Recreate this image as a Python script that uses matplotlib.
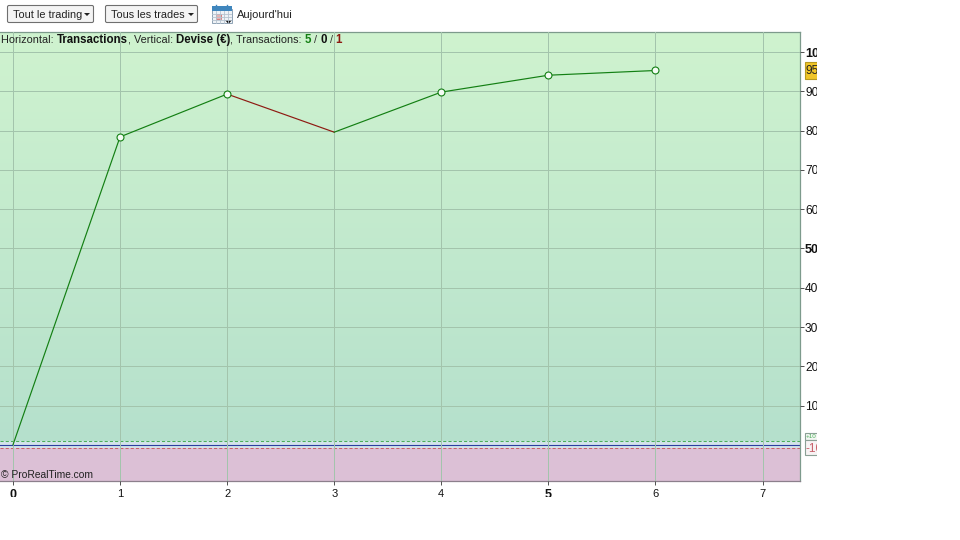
#!/usr/bin/env python3
"""Equity curve per trade, ProRealTime style, with the clipped right/bottom labels."""

import numpy as np
import matplotlib
matplotlib.use('Agg')
import matplotlib.pyplot as plt
from matplotlib.colors import LinearSegmentedColormap
from matplotlib.patches import FancyBboxPatch, Rectangle
from matplotlib.transforms import Bbox

# ── Data ──────────────────────────────────────────────────────────────────────
trades = [0, 1, 2, 3, 4, 5, 6]
equity = [0, 78.4, 89.3, 79.6, 89.8, 94.1, 95.3]
winner_trades = [1, 2, 4, 5, 6]
winner_equity = [78.4, 89.3, 89.8, 94.1, 95.3]
x_ticks = [0, 1, 2, 3, 4, 5, 6, 7]
y_ticks = [10, 20, 30, 40, 50, 60, 70, 80, 90, 100]
y_tick_labels = ['10', '20', '30', '40', '50', '60', '70', '80', '90', '100']
bold_labels = ['0', '5', '50', '100']
last_value_label = '95'
loss_line_label = '-10'

# ── Config ────────────────────────────────────────────────────────────────────
W, H = 960, 540
AX_L, AX_R, AX_T, AX_B = 0, 799.5, 32, 481
FONT = 'Liberation Sans'
FS_REG = 7.8
FS_BOLD = 8.3
C_UP = '#137f13'
C_DOWN = '#8e1a12'
C_FRAME = '#7d9a8c'
C_GRID = '#a3c4ac'

plt.rcParams['font.family'] = [FONT, 'DejaVu Sans']

fig = plt.figure(figsize=(W / 100, H / 100), dpi=100, facecolor='white')
ax = fig.add_axes([AX_L / W, 1 - AX_B / H, (AX_R - AX_L) / W, (AX_B - AX_T) / H])
ax.set_xlim(-0.121, 7.345)
ax.set_ylim(-9.2, 105.1)

# ── Background: green gradient above zero, pink below ────────────────────────
green = LinearSegmentedColormap.from_list('g', ['#b5e0cc', '#cff3cf'])
ax.imshow(np.linspace(1, 0, 256).reshape(-1, 1), cmap=green, aspect='auto',
          extent=[-0.121, 7.345, 0, 105.1], zorder=0)
ax.axhspan(-9.2, 0, color='#dcc0d6', lw=0, zorder=0)
ax.axhspan(-0.9, 0.95, color='#d3e3ea', lw=0, zorder=1)
ax.axhline(0.95, color='#4caf5a', lw=0.75, ls=(0, (3, 2)), zorder=2)
ax.axhline(-0.9, color='#c8606a', lw=0.75, ls=(0, (3, 2)), zorder=2)
ax.axhline(0, color='#2b3fa0', lw=0.8, zorder=2)

# ── Grid + ticks ──────────────────────────────────────────────────────────────
ax.set_xticks(x_ticks)
ax.set_xticklabels([str(t) for t in x_ticks], fontsize=8)
ax.yaxis.tick_right()
ax.set_yticks(y_ticks)
ax.set_yticklabels(y_tick_labels, fontsize=8.6)
ax.grid(True, color=C_GRID, lw=0.72, zorder=1)
ax.set_axisbelow(False)
ax.tick_params(axis='y', length=3, width=0.72, color='#555555', pad=1.0, labelcolor='#111111')
ax.tick_params(axis='x', length=3, width=0.72, color='#555555', pad=3, labelcolor='#111111')
for s in ax.spines.values():
    s.set_color(C_FRAME)
    s.set_linewidth(0.9)
ax.spines['left'].set_visible(False)
ax.spines['bottom'].set_color('#8c7f8c')

# labels are cut off at the panel's outer edge in the screenshot
visible = Bbox([[0, H - 497], [817, H]])
for lab in ax.get_xticklabels() + ax.get_yticklabels():
    lab.set_clip_box(visible)
    lab.set_clip_on(True)
    if lab.get_text() in bold_labels:
        lab.set_fontweight('bold')
        lab.set_fontsize(9)

# ── Equity line ───────────────────────────────────────────────────────────────
for i in range(len(trades) - 1):
    col = C_UP if equity[i + 1] >= equity[i] else C_DOWN
    ax.plot(trades[i:i + 2], equity[i:i + 2], color=col, lw=0.85, zorder=4)
ax.plot(winner_trades, winner_equity, ls='none', marker='o', ms=5, mfc='#f4fbf4',
        mec=C_UP, mew=0.8, zorder=5)

# ── Pixel overlay for header and badges ───────────────────────────────────────
ui = fig.add_axes([0, 0, 1, 1], facecolor='none')
ui.set_xlim(0, W)
ui.set_ylim(H, 0)
ui.axis('off')

pieces = [('Horizontal: ', 'normal', '#222222'), ('Transactions', 'bold', '#111111'),
          (', Vertical: ', 'normal', '#222222'), ('Devise (€)', 'bold', '#111111'),
          (', Transactions: ', 'normal', '#222222'), ('5', 'bold', C_UP),
          (' / ', 'normal', '#333333'), ('0', 'bold', '#111111'),
          (' / ', 'normal', '#333333'), ('1', 'bold', C_DOWN)]
fig.canvas.draw()
rend = fig.canvas.get_renderer()
cx = 1
for txt, wt, col in pieces:
    size = FS_BOLD if wt == 'bold' else FS_REG
    t = ui.text(cx, 43, txt.replace(' ', '\u00a0'), fontsize=size, fontweight=wt,
                color=col, va='baseline')
    cx += t.get_window_extent(rend).width

ui.text(1, 475.5, '© ProRealTime.com', fontsize=7.4, va='center', color='#222222')


def button(x0, x1, label):
    ui.add_patch(FancyBboxPatch((x0 + 0.5, 5.5), x1 - x0 - 1, 17, boxstyle='round,pad=0,rounding_size=1.5',
                                fc='#f4f4f4', ec='#6f6f6f', lw=0.8))
    ui.text(x0 + 6, 14.5, label, fontsize=FS_REG, va='center', color='#222222')
    tx = x1 - 7
    ui.fill([tx - 3, tx + 3, tx], [13, 13, 16], color='#222222', lw=0)


button(7, 94, 'Tout le trading')
button(105, 198, 'Tous les trades')

# calendar icon
ui.add_patch(Rectangle((212, 9), 19.5, 14, fc='#eef2f6', ec='#8fa3b5', lw=0.7))
ui.add_patch(Rectangle((212, 6), 19.5, 5, fc='#3f86bd', ec='none'))
ui.plot([216, 216], [4.5, 7], color='#3f86bd', lw=1)
ui.plot([227, 227], [4.5, 7], color='#3f86bd', lw=1)
for gx in (216, 220, 224, 228):
    ui.plot([gx, gx], [11, 23], color='#b6c3cf', lw=0.6)
for gy in (14, 17, 20):
    ui.plot([212, 231], [gy, gy], color='#b6c3cf', lw=0.6)
ui.add_patch(Rectangle((216, 14), 5, 5, fc='#e6b3b3', ec='#c44', lw=0.4))
ui.fill([225, 232, 228.5], [20, 20, 24], color='#111111', lw=0)
ui.text(237, 14.5, "Aujourd'hui", fontsize=8, va='center', color='#222222')

# badges on the y scale, cut at the same edge as the labels
badge_clip = Bbox([[800, 0], [817, H]])
for y0, hgt, fc, ec in [(61.5, 17, '#f0c528', '#b89a20'),
                        (432.5, 7, '#f4f7f4', '#8aa095'),
                        (439.5, 15.5, '#f7f3f4', '#8aa095')]:
    b = Rectangle((804.5, y0), 20, hgt, fc=fc, ec=ec, lw=0.8)
    ui.add_patch(b)
    b.set_clip_box(badge_clip)
    b.set_clip_path(None)
for y, txt, size, col in [(70.5, last_value_label, 8.6, '#222222'),
                          (436, '+10', 4.5, '#4caf5a'),
                          (448.5, loss_line_label, 8.6, '#c8606a')]:
    t = ui.text(806, y, txt, fontsize=size, va='center', color=col, clip_on=True)
    t.set_clip_box(badge_clip)

fig.savefig('out.png', dpi=100, facecolor='white')
